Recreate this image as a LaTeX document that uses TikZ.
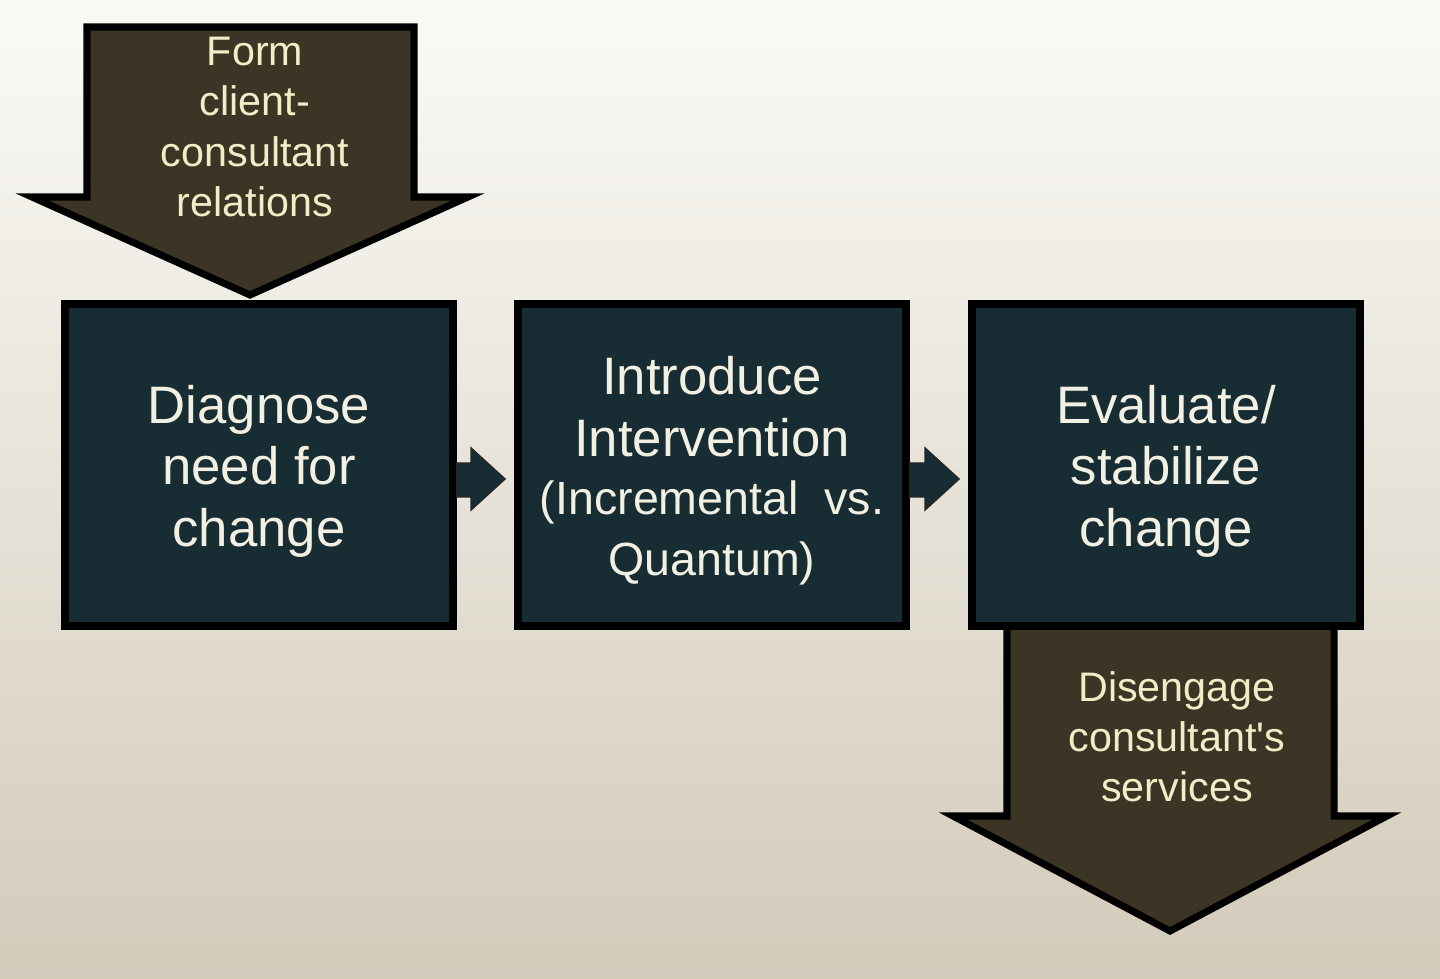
\documentclass[tikz,border=0pt]{standalone}
\usepackage{fontspec}
\setmainfont{Liberation Sans}
\usetikzlibrary{calc}
\definecolor{PaperTop}{HTML}{FBFAF7}
\definecolor{PaperBottom}{HTML}{D3CBBA}
\definecolor{StageTeal}{HTML}{172C33}
\definecolor{PhaseBrown}{HTML}{3C3425}
\definecolor{StageText}{HTML}{F1F0E2}
\definecolor{PhaseText}{HTML}{F2EDC6}

% block arrow from the east side of one stage to the west side of the next
\newcommand{\stepconnector}[2]{%
  \draw[link] ($(#1.east)+(0,-2)$) -- ($(#2.west)+(-43,-2)$) -- ++(0,-15)
    -- ($(#2.west)+(-9,14)$) -- ++(-34,31) -- ++(0,-13)
    -- ($(#1.east)+(0,32)$) -- cycle;}

\begin{document}
\begin{tikzpicture}[
  x=0.02cm, y=-0.02cm,
  stage/.style={draw=black, line width=4.5pt, fill=StageTeal, inner sep=0pt,
    minimum width=7.76cm, minimum height=6.44cm},
  stagetext/.style={text=StageText, align=center, inner sep=0pt, font=\fontsize{30}{35}\selectfont},
  phase/.style={draw=black, line width=4pt, fill=PhaseBrown, line join=miter},
  phaselabel/.style={text=PhaseText, align=center, inner sep=0pt, font=\fontsize{23.5}{28.5}\selectfont},
  link/.style={draw=black!85, line width=0.8pt, fill=StageTeal, line join=miter}
]

\useasboundingbox (0,0) rectangle (1440,979);
\shade[top color=PaperTop, bottom color=PaperBottom] (0,0) rectangle (1440,979);

% entry and exit phases
\draw[phase] (87,27) -- (414,27) -- (414,197) -- (468,197) -- (250,295)
  -- (32,197) -- (87,197) -- cycle;
\draw[phase] (1007,600) -- (1334,600) -- (1334,816) -- (1387,816) -- (1170,931)
  -- (953,816) -- (1007,816) -- cycle;

\node[phaselabel] (form) at (255,127) {Form\\client-\\consultant\\relations};
\node[phaselabel] (disengage) at (1177,737) {Disengage\\consultant\textquotesingle s\\services};

% stages
\node[stage] (diagnose) at (259,465) {};
\node[stage] (introduce) at (712,465) {};
\node[stage] (evaluate) at (1166,465) {};

\node[stagetext] (diagnose text) at ($(diagnose)+(0,6)$) {Diagnose\\need for\\change};
\node[stagetext] (introduce text) at ($(introduce)+(0,6)$) {Introduce\\Intervention\\[-2pt]
  {\fontsize{26.5}{34}\selectfont (Incremental\ \ vs.}\\[0pt]
  {\fontsize{26.5}{34}\selectfont Quantum)}};
\node[stagetext] (evaluate text) at ($(evaluate)+(0,6)$) {Evaluate/\\stabilize\\change};

\stepconnector{diagnose}{introduce}
\stepconnector{introduce}{evaluate}

\end{tikzpicture}
\end{document}
